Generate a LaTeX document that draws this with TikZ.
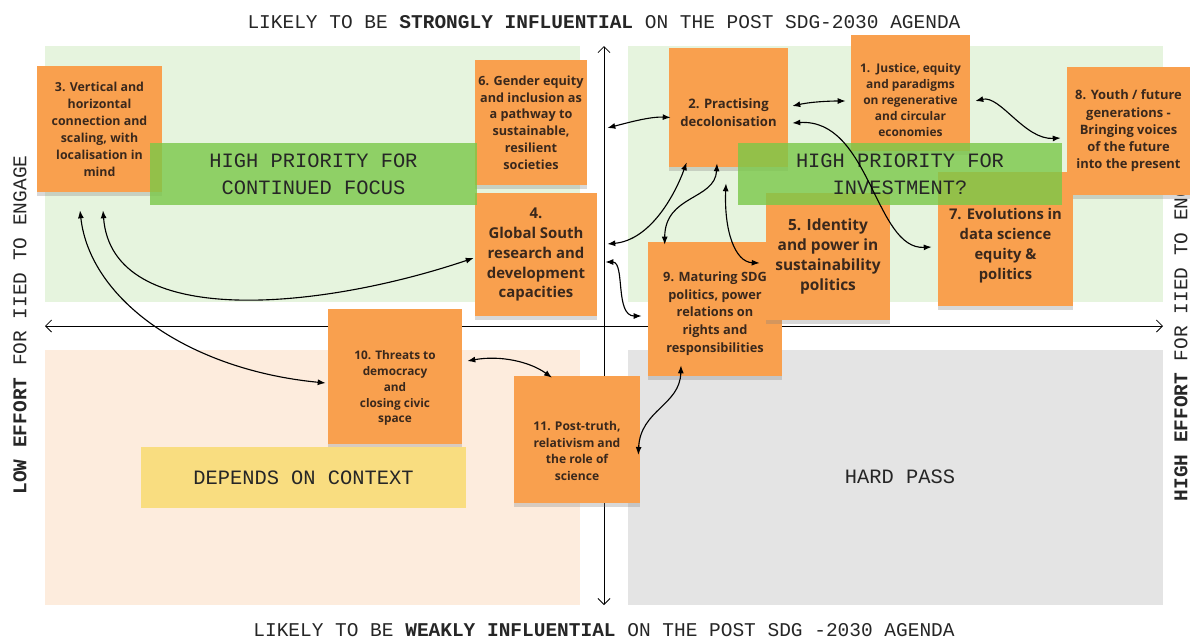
\documentclass[tikz,border=0pt]{standalone}
\usepackage{fontspec}
\setmainfont{Open Sans}
\setmonofont{Liberation Mono}
\usetikzlibrary{arrows.meta,shadows}

\definecolor{notebg}{RGB}{249,160,78}
\definecolor{notetext}{RGB}{58,40,28}
\definecolor{zonegreen}{RGB}{230,244,222}
\definecolor{zonepeach}{RGB}{253,236,221}
\definecolor{zonegrey}{RGB}{228,228,228}
\definecolor{priogreen}{RGB}{122,200,72}
\definecolor{prioyellow}{RGB}{249,221,128}

\newcommand{\notefont}[2]{\fontsize{#1}{#2}\selectfont\bfseries}
\newcommand{\notedrop}[1]{\rule{0pt}{#1}}
\newcommand{\axisfont}{\fontsize{13.85}{16}\selectfont\ttfamily}
\newcommand{\priofont}{\fontsize{14.5}{19.2}\selectfont\ttfamily}

\begin{document}
\begin{tikzpicture}[
		x=0.025cm, y=-0.025cm,
		note/.style={fill=notebg, text=notetext, align=center, inner sep=0pt,
			drop shadow={shadow xshift=0pt, shadow yshift=-3pt, opacity=0.3}},
		prio/.style={fill opacity=0.8, text opacity=1, align=center, inner sep=0pt, font=\priofont, text=black!85},
		axislabel/.style={font=\axisfont, text=black!85},
		link/.style={{Latex[length=2mm,width=1.5mm]}-{Latex[length=2mm,width=1.5mm]}, line width=0.8pt},
		axis/.style={{Straight Barb[length=1.5mm]}-{Straight Barb[length=1.5mm]}, line width=0.6pt}
	]
		\useasboundingbox[fill=white] (0,0) rectangle (1193,641);
		\fill[zonegreen] (45,46) rectangle (580,302);
		\fill[zonegreen] (628,46) rectangle (1163,302);
		\fill[zonepeach] (45,350) rectangle (580,605);
		\fill[zonegrey] (628,350) rectangle (1163,605);
		\draw[axis] (604,46) -- (604,605);
		\draw[axis] (45,326) -- (1163,326);

		\node[axislabel] (strong) at (604,22) {LIKELY TO BE \textbf{STRONGLY INFLUENTIAL} ON THE POST SDG-2030 AGENDA};
		\node[axislabel] (weak) at (604,630) {LIKELY TO BE \textbf{WEAKLY INFLUENTIAL} ON THE POST SDG -2030 AGENDA};
		\node[axislabel, rotate=90] (low) at (20,325) {\textbf{LOW EFFORT} FOR IIED TO ENGAGE};
		\node[axislabel, rotate=90] (high) at (1181,326) {\textbf{HIGH EFFORT} FOR IIED TO ENGAGE};

		\node[note, minimum width=3.125cm, minimum height=3.15cm, font=\notefont{8.8}{12.1}] (s3) at (99.5,129) {3. Vertical and\\horizontal\\connection and\\scaling, with\\localisation in\\mind};
		\node[note, minimum width=2.8cm, minimum height=3.125cm, font=\notefont{9}{11.9}] (s6) at (531,122.5) {6. Gender equity\\and inclusion as\\a pathway to\\sustainable,\\resilient\\societies};
		\node[note, minimum width=3.05cm, minimum height=3.075cm, font=\notefont{10.6}{14.2}] (s4) at (536,254.5) {4.\\Global South\\research and\\development\\capacities};
		\node[note, minimum width=2.975cm, minimum height=2.975cm, font=\notefont{9.3}{12.8}] (s2) at (728.5,107.5) {\notedrop{14pt}2. Practising\\decolonisation};
		\node[note, minimum width=2.975cm, minimum height=2.875cm, font=\notefont{8.5}{11.4}] (s1) at (910.5,93) {\notedrop{16.5pt}1.\ \ Justice, equity\\and paradigms\\on regenerative\\and circular\\economies};
		\node[note, minimum width=3.075cm, minimum height=3.2cm, font=\notefont{9.2}{12.3}] (s8) at (1128.5,131) {8. Youth / future\\generations -\\Bringing voices\\of the future\\into the present};
		\node[note, minimum width=3.35cm, minimum height=3.35cm, font=\notefont{9.1}{12.6}] (s9) at (715,309) {\notedrop{13.5pt}9. Maturing SDG\\politics, power\\relations on\\rights and\\responsibilities};
		\node[note, minimum width=3.1cm, minimum height=3.175cm, font=\notefont{11}{14.2}] (s5) at (828,256.5) {5. Identity\\and power in\\sustainability\\politics};
		\node[note, minimum width=3.375cm, minimum height=3.35cm, font=\notefont{10.5}{14.2}] (s7) at (1005.5,239) {\notedrop{18pt}7. Evolutions in\\data science\\equity \&\\politics};
		\node[note, minimum width=3.35cm, minimum height=3.375cm, font=\notefont{8.4}{11.2}] (s10) at (395,376.5) {\notedrop{23pt}10. Threats to\\democracy\\and\\closing civic\\space};
		\node[note, minimum width=3.15cm, minimum height=3.175cm, font=\notefont{8.6}{11.9}] (s11) at (577,439.5) {\notedrop{23pt}11. Post-truth,\\relativism and\\the role of\\science};

		\node[prio, fill=priogreen, minimum width=8.175cm, minimum height=1.55cm] (focus) at (313.5,174) {HIGH PRIORITY FOR\\CONTINUED FOCUS};
		\node[prio, fill=priogreen, minimum width=8.1cm, minimum height=1.55cm] (invest) at (900,174) {HIGH PRIORITY FOR\\INVESTMENT?};
		\node[prio, fill=prioyellow, fill opacity=1, minimum width=8.125cm, minimum height=1.525cm] (context) at (303.5,477.5) {DEPENDS ON CONTEXT};
		\node[prio] (pass) at (900,477) {HARD PASS};

		\draw[link] ([shift={(3.5,18)}]s3.south) .. controls +(9,120) and +(-154,52) .. ([shift={(-1,3.5)}]s4.west);
		\draw[link] ([shift={(-19.5,18)}]s3.south) .. controls +(10,90) and +(-136,-13) .. ([shift={(-2,6.5)}]s10.west);
		\draw[link] ([shift={(20,5.5)}]s6.east) .. controls +(23,-6) and +(-20,-1) .. ([shift={(2,10)}]s2.west);
		\draw[link] ([shift={(4,-1.5)}]s2.east) .. controls +(18,-4) and +(-18,0) .. ([shift={(-5,8)}]s1.west);
		\draw[link] ([shift={(5,8)}]s1.east) .. controls +(25,-6) and +(-36,2) .. ([shift={(-6,7)}]s8.west);
		\draw[link] ([shift={(4,15.5)}]s2.east) .. controls +(78,-5) and +(-57,3) .. ([shift={(-6,8)}]s7.west);
		\draw[link] ([shift={(18,-5)}]s2.south west) .. controls +(-12,33) and +(43,-4) .. ([shift={(10,-10.5)}]s4.east);
		\draw[link] ([shift={(-11.5,-4)}]s2.south) .. controls +(-2,37) and +(0,-50) .. ([shift={(17,3)}]s9.north west);
		\draw[link] ([shift={(-2.5,16)}]s2.south) .. controls +(-2,47) and +(-25,-1) .. ([shift={(-6,6.5)}]s5.west);
		\draw[link] ([shift={(8,7.5)}]s4.east) .. controls +(20,0) and +(-27,0) .. ([shift={(-6,7)}]s9.west);
		\draw[link] ([shift={(5,-15.5)}]s10.east) .. controls +(33,-6) and +(-22,-16) .. ([shift={(-25,2)}]s11.north);
		\draw[link] ([shift={(-34,-11)}]s9.south) .. controls +(-1,40) and +(2,-45) .. ([shift={(-2,15.5)}]s11.east);
	\end{tikzpicture}
\end{document}
